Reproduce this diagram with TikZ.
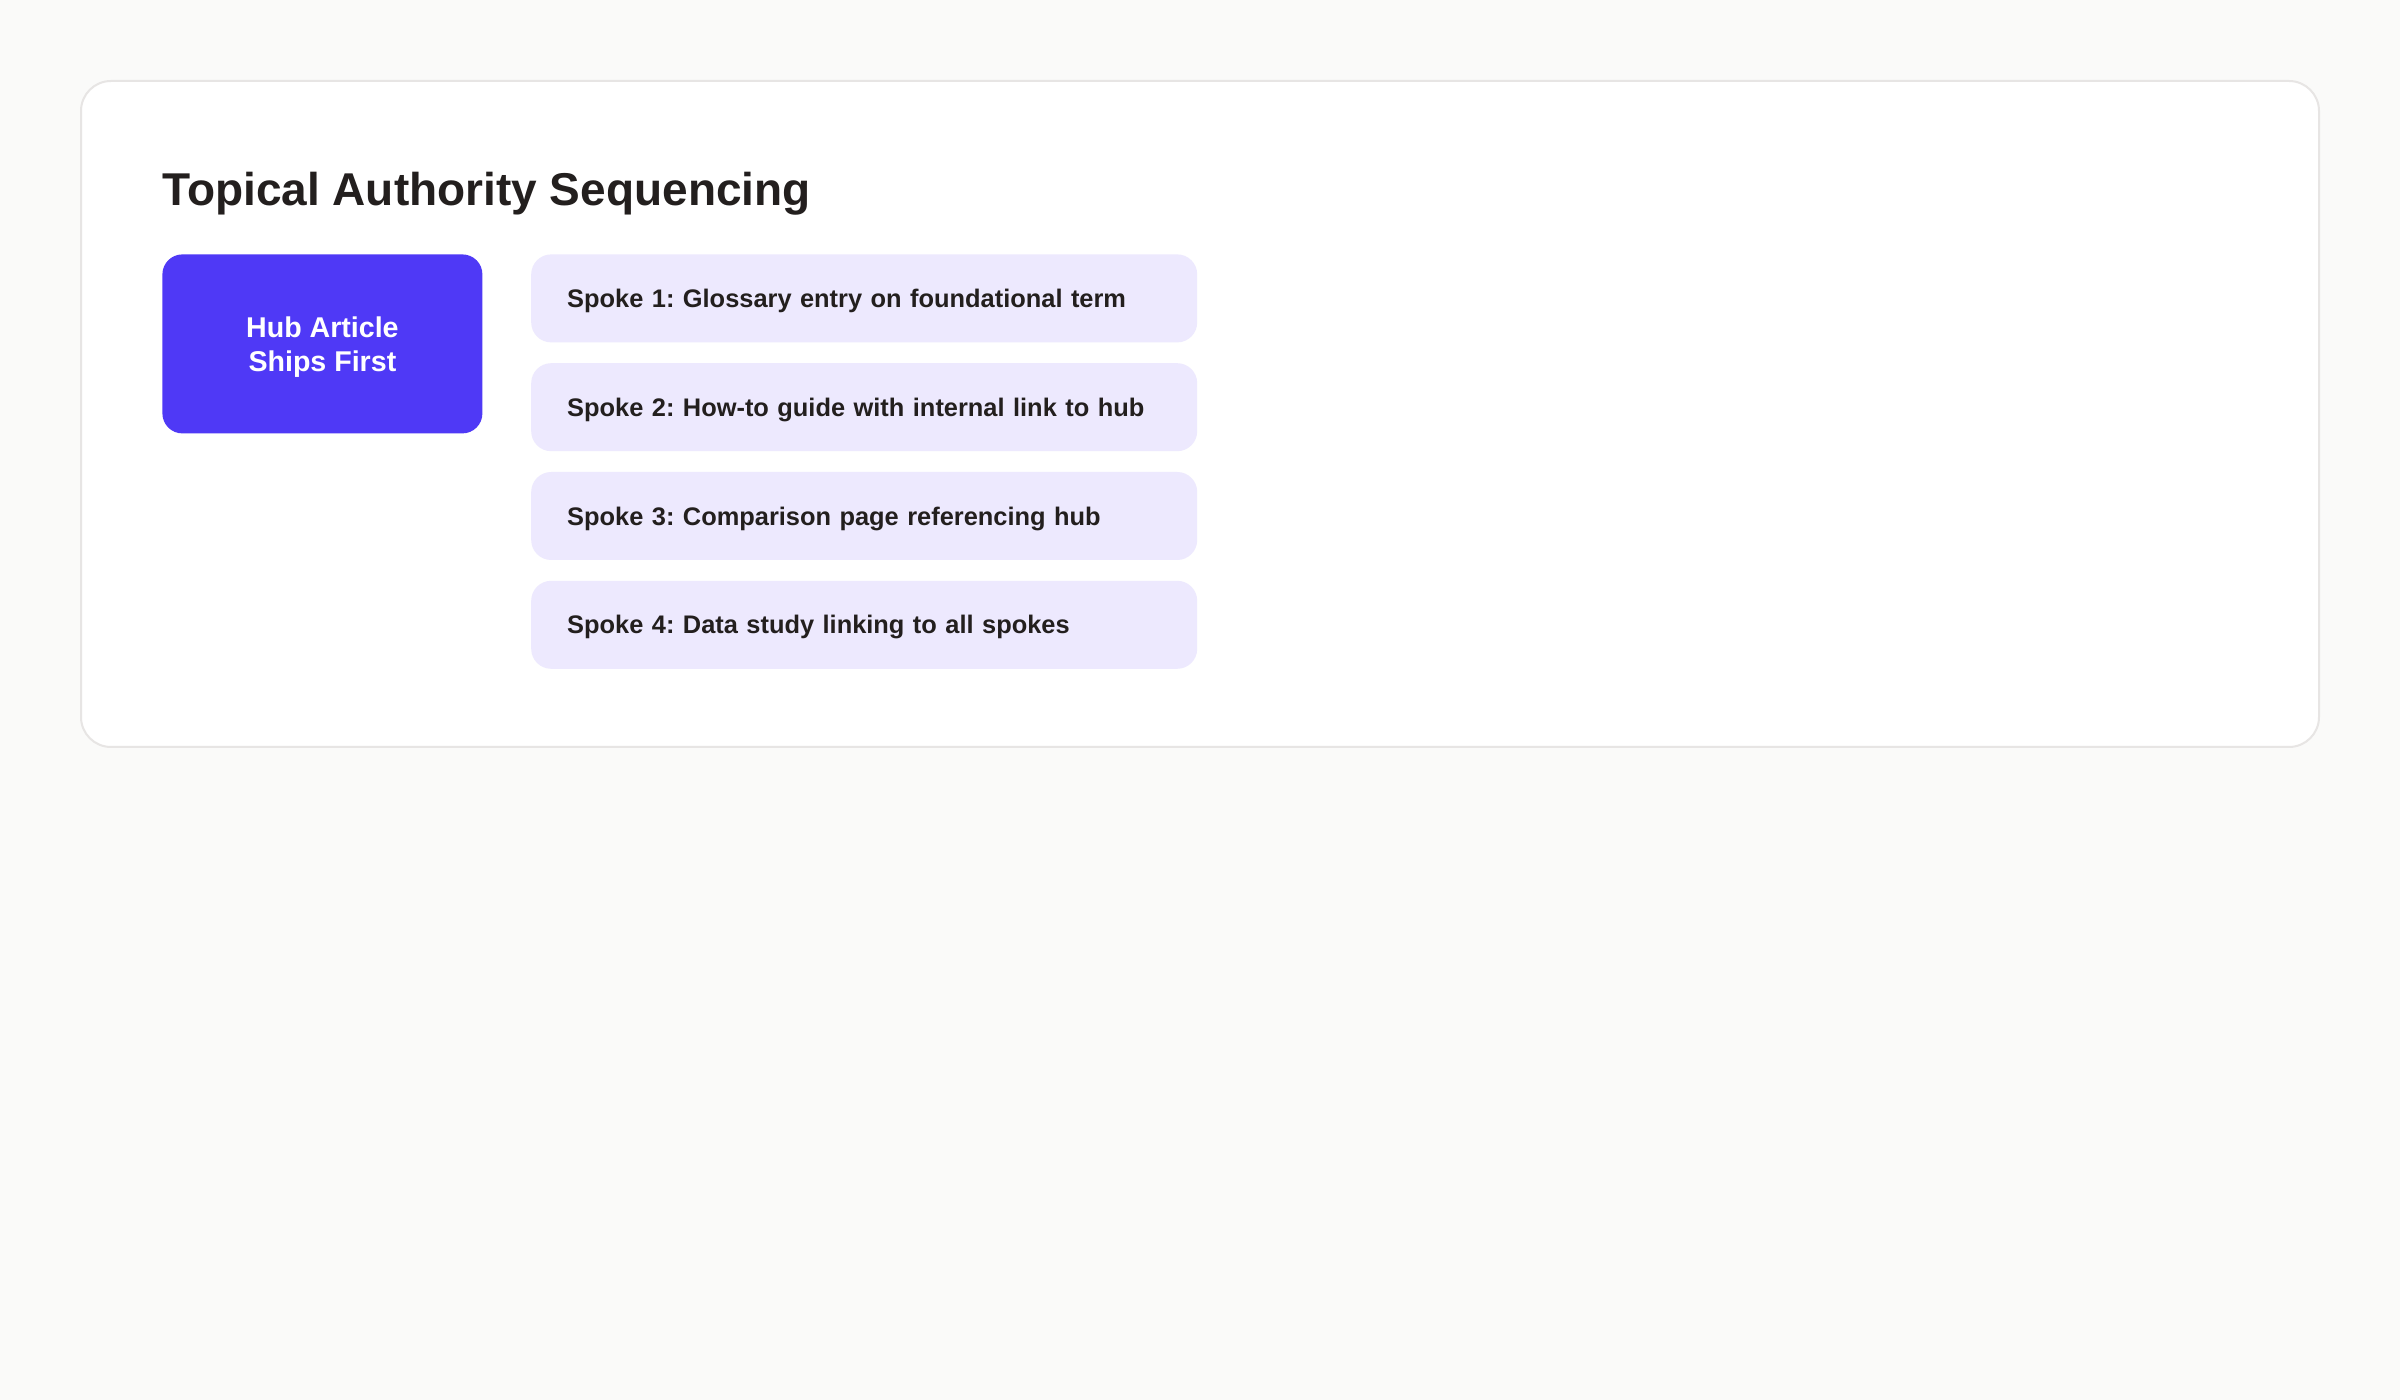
\documentclass[tikz,border=0pt]{standalone}
\usepackage{fontspec}
\setmainfont{Liberation Sans}
\usepackage{xcolor}
\usetikzlibrary{positioning}
\frenchspacing

\definecolor{pagebg}{HTML}{FAFAF9}
\definecolor{cardline}{HTML}{E7E5E4}
\definecolor{hubfill}{HTML}{4F39F6}
\definecolor{spokefill}{HTML}{EDE9FE}
\definecolor{inktext}{HTML}{231F1E}

\tikzset{
  hubbox/.style={fill=hubfill, rounded corners=10pt, text=white,
    minimum width=160pt, minimum height=89.5pt, inner sep=0pt,
    align=center, text depth=0pt,
    font=\fontsize{14.3}{17}\selectfont\bfseries},
  spokebox/.style={fill=spokefill, rounded corners=10pt, text=inktext,
    text width=297pt, inner xsep=18pt, minimum height=44pt,
    text height=9.1pt, text depth=0pt, align=left,
    font=\fontsize{12.7}{15}\selectfont\bfseries}
}

\begin{document}
\begin{tikzpicture}[x=0.5pt,y=-0.5pt]
  \fill[pagebg] (0,0) rectangle (2400,1400);
  \draw[cardline, line width=1pt, fill=white, rounded corners=15pt]
    (81,81) rectangle (2319,747);

  \node (ttl) [anchor=base west, inner sep=0pt, text=inktext,
    font=\fontsize{23}{27}\selectfont\bfseries] at (162,206)
    {Topical Authority Sequencing};

  \node (hub) [hubbox, anchor=north west] at (162,254)
    {Hub Article\\Ships First};

  \node (sp1) [spokebox, right=24pt of hub.north east, anchor=north west]
    {Spoke 1: Glossary entry on foundational term};
  \node (sp2) [spokebox, below=10pt of sp1]
    {Spoke 2: How-to guide with internal link to hub};
  \node (sp3) [spokebox, below=10pt of sp2]
    {Spoke 3: Comparison page referencing hub};
  \node (sp4) [spokebox, below=10pt of sp3]
    {Spoke 4: Data study linking to all spokes};
\end{tikzpicture}
\end{document}
